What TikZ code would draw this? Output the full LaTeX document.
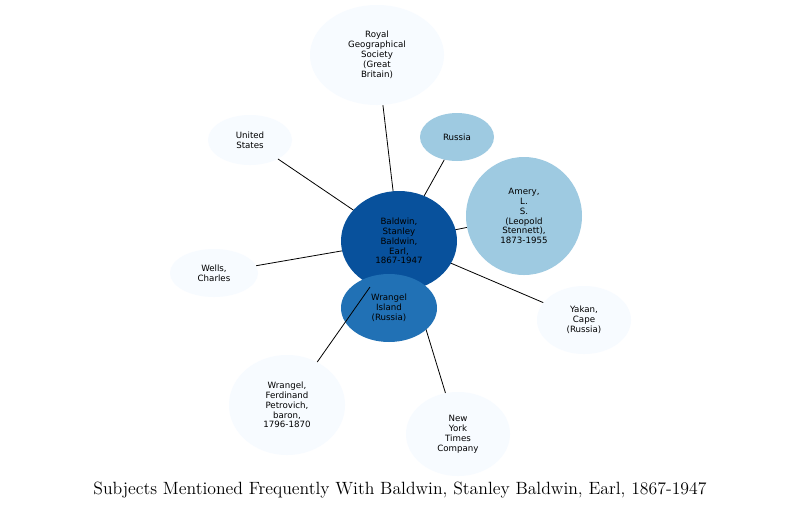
\documentclass[tikz,border=0pt]{standalone}
\usepackage{fontspec}
\newfontfamily\dv{DejaVu Sans}
\usetikzlibrary{shapes.geometric}
\definecolor{c0}{HTML}{F7FBFF}
\definecolor{c1}{HTML}{9ECAE1}
\definecolor{c2}{HTML}{2171B5}
\definecolor{c3}{HTML}{08519C}
\begin{document}
\begin{tikzpicture}[x=0.75pt,y=-0.75pt,
  bub/.style={ellipse,inner sep=0pt,align=center,font=\dv\fontsize{6.5}{7.4}\selectfont,text=black},
  edge/.style={draw=black,line width=0.6pt}]
\useasboundingbox (0,0) rectangle (801,512);
\fill[white] (0,0) rectangle (801,512);
\def\E#1#2#3#4#5#6#7{\node[bub,fill=#4,minimum width=#5*0.75pt*2,minimum height=#6*0.75pt*2] (#1) at (#2,#3) {#7};}
\E{royal}{377}{55}{c0}{67}{50}{Royal\\Geographical\\Society\\(Great\\Britain)}
\E{us}{250}{140}{c0}{42}{25}{United\\States}
\E{rus}{457}{137}{c1}{37}{24}{Russia}
\E{amery}{524}{216}{c1}{58}{59}{Amery,\\L.\\S.\\(Leopold\\Stennett),\\1873-1955}
\E{wells}{214}{273}{c0}{44}{24}{Wells,\\Charles}
\E{yakan}{584}{320}{c0}{47}{34}{Yakan,\\Cape\\(Russia)}
\E{ferd}{287}{405}{c0}{58}{50}{Wrangel,\\Ferdinand\\Petrovich,\\baron,\\1796-1870}
\E{ny}{458}{434}{c0}{52}{42}{New\\York\\Times\\Company}
\coordinate (cc) at (399,241);
\draw[edge] (royal) -- (cc);
\draw[edge] (us) -- (cc);
\draw[edge] (rus) -- (cc);
\draw[edge] (amery) -- (cc);
\draw[edge] (wells) -- (cc);
\draw[edge] (yakan) -- (cc);
\draw[edge] (ny) -- (cc);
\E{bald}{399}{241}{c3}{58}{50}{Baldwin,\\Stanley\\Baldwin,\\Earl,\\1867-1947}
\E{wisl}{389}{308}{c2}{48}{34}{Wrangel\\Island\\(Russia)}
\coordinate (fe) at (370,287);
\draw[edge] (ferd) -- (fe);
\node[font=\fontsize{13.3}{15}\selectfont] (title) at (400,490) {Subjects Mentioned Frequently With Baldwin, Stanley Baldwin, Earl, 1867-1947};
\end{tikzpicture}
\end{document}
